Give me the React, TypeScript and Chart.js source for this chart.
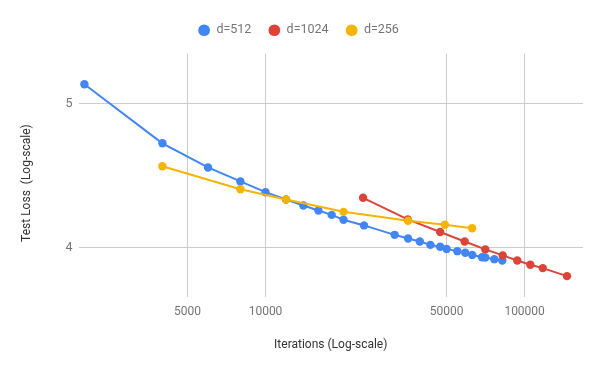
import React, { useEffect, useRef } from "react";
import { Chart, registerables } from "chart.js";

Chart.register(...registerables);

const seriesNames = ["d=512", "d=1024", "d=256"];
const seriesColors = ["#4285F4", "#DB4437", "#F4B400"];

const d512Iter = [2000, 4000, 6000, 8000, 10000, 12000, 14000, 16000, 18000, 20000, 24000, 31500, 35500, 39400, 43300, 47200, 50000, 55000, 59000, 62800, 68500, 70500, 76400, 82000];
const d512Loss = [5.152, 4.701, 4.528, 4.431, 4.358, 4.309, 4.269, 4.236, 4.207, 4.175, 4.139, 4.079, 4.056, 4.037, 4.016, 4.004, 3.991, 3.977, 3.967, 3.954, 3.94, 3.938, 3.928, 3.92];

const d1024Iter = [23800, 35400, 47200, 58700, 70500, 82300, 93700, 105200, 117500, 145700];
const d1024Loss = [4.32, 4.178, 4.097, 4.037, 3.988, 3.951, 3.92, 3.894, 3.874, 3.826];

const d256Iter = [4000, 8000, 12000, 20000, 35500, 49200, 62700];
const d256Loss = [4.537, 4.378, 4.309, 4.227, 4.169, 4.143, 4.121];

const xTicks = [5000, 10000, 50000, 100000];
const yTicks = [4, 5];

const xTitle = "Iterations (Log-scale)";
const yTitle = "Test Loss  (Log-scale)";

const toPoints = (xs: number[], ys: number[]) => xs.map((x, i) => ({ x, y: ys[i] }));

export default function App() {
  const ref = useRef<HTMLCanvasElement | null>(null);

  useEffect(() => {
    if (!ref.current) return;
    Chart.defaults.font.family = "Roboto";
    const seriesData = [
      toPoints(d512Iter, d512Loss),
      toPoints(d1024Iter, d1024Loss),
      toPoints(d256Iter, d256Loss),
    ];
    const orders = [2, 1, 0];
    const tweaks = {
      id: "tweaks",
      afterInit(chart: any) {
        const lg = chart.legend;
        if (lg && !lg.__patched) {
          const origFit = lg.fit;
          lg.fit = function () {
            origFit.call(this);
            this.height += 10;
          };
          const origDraw = lg.draw;
          lg.draw = function (...args: any[]) {
            const ctx = this.ctx;
            ctx.save();
            ctx.translate(7, 3);
            origDraw.apply(this, args);
            ctx.restore();
          };
          lg.__patched = true;
        }
      },
      beforeDraw(chart: any) {
        const s = chart.scales.y;
        if (s && !s.__patched) {
          const origTitle = s.drawTitle;
          s.drawTitle = function (...args: any[]) {
            const ctx = this.ctx;
            ctx.save();
            ctx.translate(0, 8);
            origTitle.apply(this, args);
            ctx.restore();
          };
          s.__patched = true;
        }
      },
    };
    const chart = new Chart(ref.current, {
      type: "line",
      data: {
        datasets: seriesData.map((d, i) => ({
          label: seriesNames[i],
          data: d,
          borderColor: seriesColors[i],
          backgroundColor: seriesColors[i],
          pointBackgroundColor: seriesColors[i],
          pointBorderWidth: 0,
          pointRadius: 4.2,
          borderWidth: 2,
          fill: false,
          tension: 0,
          order: orders[i],
        })),
      },
      options: {
        animation: false,
        responsive: true,
        maintainAspectRatio: false,
        layout: { padding: { top: 4, left: 0, right: 17, bottom: 0 } },
        plugins: {
          tooltip: { enabled: false },
          legend: {
            position: "top",
            align: "center",
            labels: {
              usePointStyle: true,
              pointStyle: "circle",
              boxWidth: 12,
              boxHeight: 8.3,
              padding: 17,
              color: "#757575",
              font: { size: 12.5, family: "Roboto" },
              sort: (a: any, b: any) => a.datasetIndex - b.datasetIndex,
            },
          },
        },
        scales: {
          x: {
            type: "logarithmic",
            min: 1898,
            max: 168000,
            bounds: "data",
            afterBuildTicks: (s: any) => {
              s.ticks = xTicks.map((v) => ({ value: v }));
            },
            afterFit: (s: any) => {
              s.height = 74.3;
            },
            grid: { color: "#cccccc", drawTicks: false, lineWidth: 1 },
            border: { display: false },
            ticks: {
              color: "#757575",
              padding: 8,
              maxRotation: 0,
              autoSkip: false,
              font: { size: 12, family: "Roboto" },
              callback: (v: any) => String(v),
            },
            title: {
              display: true,
              text: xTitle,
              color: "#333333",
              font: { size: 12, family: "Roboto" },
              padding: { top: 0, bottom: 18.8 },
            },
          },
          y: {
            type: "logarithmic",
            min: 3.706,
            max: 5.403,
            bounds: "data",
            afterBuildTicks: (s: any) => {
              s.ticks = yTicks.map((v) => ({ value: v }));
            },
            afterFit: (s: any) => {
              s.width = 78.5;
            },
            grid: { color: "#cccccc", drawTicks: false, lineWidth: 1 },
            border: { display: false },
            ticks: {
              color: "#757575",
              padding: 6,
              autoSkip: false,
              font: { size: 12.5, family: "Roboto" },
              callback: (v: any) => String(v),
            },
            title: {
              display: true,
              text: yTitle,
              color: "#333333",
              font: { size: 12, family: "Roboto" },
              padding: { top: 19.8, bottom: 0 },
            },
          },
        },
      },
      plugins: [tweaks],
    });
    return () => chart.destroy();
  }, []);

  return (
    <div style={{ position: "fixed", left: 0, top: 0, width: 600, height: 371, background: "#ffffff" }}>
      <canvas ref={ref} />
    </div>
  );
}
